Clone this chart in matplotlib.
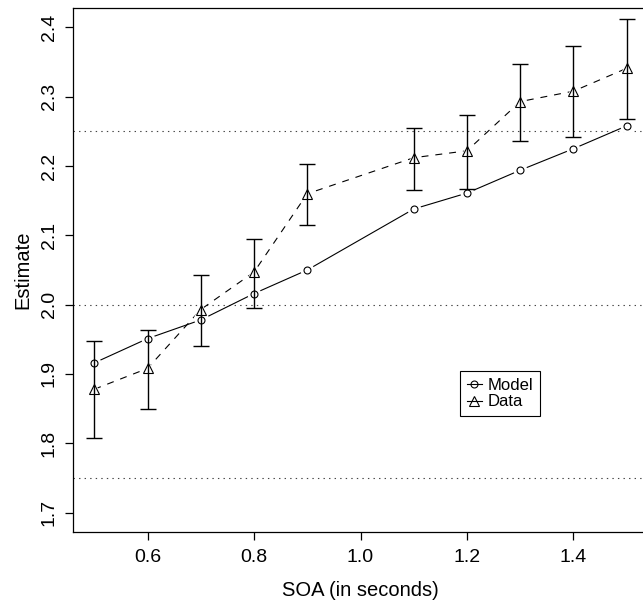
import numpy as np
import matplotlib
matplotlib.use('Agg')
import matplotlib.pyplot as plt
from matplotlib.lines import Line2D

plt.rcParams['font.family'] = ['Liberation Sans', 'DejaVu Sans']
plt.rcParams['lines.scale_dashes'] = False

# SOA values (seconds)
soa = [0.5, 0.6, 0.7, 0.8, 0.9, 1.1, 1.2, 1.3, 1.4, 1.5]

# model predictions
model = [1.916, 1.951, 1.978, 2.016, 2.050, 2.138, 2.161, 2.194, 2.225, 2.258]

# observed data with error bar limits
data = [1.878, 1.908, 1.993, 2.047, 2.160, 2.212, 2.222, 2.293, 2.308, 2.341]
data_hi = [1.947, 1.963, 2.043, 2.095, 2.203, 2.255, 2.274, 2.347, 2.373, 2.412]
data_lo = [1.808, 1.850, 1.941, 1.995, 2.115, 2.165, 2.167, 2.236, 2.242, 2.268]

ref_levels = [1.75, 2.0, 2.25]

xticks = [0.6, 0.8, 1.0, 1.2, 1.4]
yticks = [1.7, 1.8, 1.9, 2.0, 2.1, 2.2, 2.3, 2.4]

#----------------------------------------------------------------------

def main():
	fig = plt.figure(figsize=(6.43, 6.03), dpi=100)
	ax = fig.add_axes([73/643, 71/603, 575/643, 524/603])

	for lev in ref_levels:
		ax.axhline(lev, color='#444444', linestyle=(0, (1, 3)), linewidth=0.8, zorder=1)

	x = np.array(soa)
	d = np.array(data)
	err = [d - np.array(data_lo), np.array(data_hi) - d]

	# lines with gaps around points (R type="b")
	ax.plot(x, model, color='black', linewidth=0.8, zorder=2)
	ax.plot(x, model, linestyle='none', marker='o', markersize=10,
		markerfacecolor='white', markeredgecolor='none', zorder=3)
	ax.plot(x, d, color='black', linewidth=0.8, linestyle=(0, (5, 5)), zorder=4)
	ax.plot(x, d, linestyle='none', marker='^', markersize=11,
		markerfacecolor='white', markeredgecolor='none', zorder=5)

	ax.errorbar(x, d, yerr=err, fmt='none', ecolor='black', elinewidth=1.0,
		capsize=5.5, capthick=1.0, zorder=6)

	ax.plot(x, model, linestyle='none', marker='o', markersize=5,
		markerfacecolor='none', markeredgecolor='black', markeredgewidth=0.8, zorder=7)
	ax.plot(x, d, linestyle='none', marker='^', markersize=6.5,
		markerfacecolor='none', markeredgecolor='black', markeredgewidth=0.8, zorder=7)

	ax.set_xlim(0.46, 1.54)
	ax.set_ylim(1.672, 2.428)
	ax.set_xticks(xticks)
	ax.set_xticklabels(['{:.1f}'.format(v) for v in xticks])
	ax.set_yticks(yticks)
	ax.set_yticklabels(['{:.1f}'.format(v) for v in yticks], rotation=90, va='center')
	ax.tick_params(labelsize=14, length=6, width=0.9, direction='out', pad=6)
	ax.tick_params(axis='y', pad=5)

	for s in ax.spines.values():
		s.set_linewidth(0.9)
	ax.spines['right'].set_visible(False)

	ax.set_xlabel('SOA (in seconds)', fontsize=14.5, labelpad=11)
	ax.set_ylabel('Estimate', fontsize=14.5, labelpad=6)

	handles = [
		Line2D([], [], color='black', linewidth=0.8, marker='o', markersize=5,
			markerfacecolor='none', markeredgewidth=0.8),
		Line2D([], [], color='black', linewidth=0.8, marker='^', markersize=6.5,
			markerfacecolor='none', markeredgewidth=0.8),
	]
	leg = ax.legend(handles, ['Model', 'Data'], loc='upper left', bbox_to_anchor=(0.673, 0.307),
		borderaxespad=0, fontsize=12, handlelength=0.9, handletextpad=0.35,
		borderpad=0.4, labelspacing=0.1, fancybox=False, framealpha=1, edgecolor='black')
	leg.get_frame().set_linewidth(0.8)

	fig.savefig('out.png', dpi=100)

#----------------------------------------------------------------------

if __name__ == '__main__':
	main()
